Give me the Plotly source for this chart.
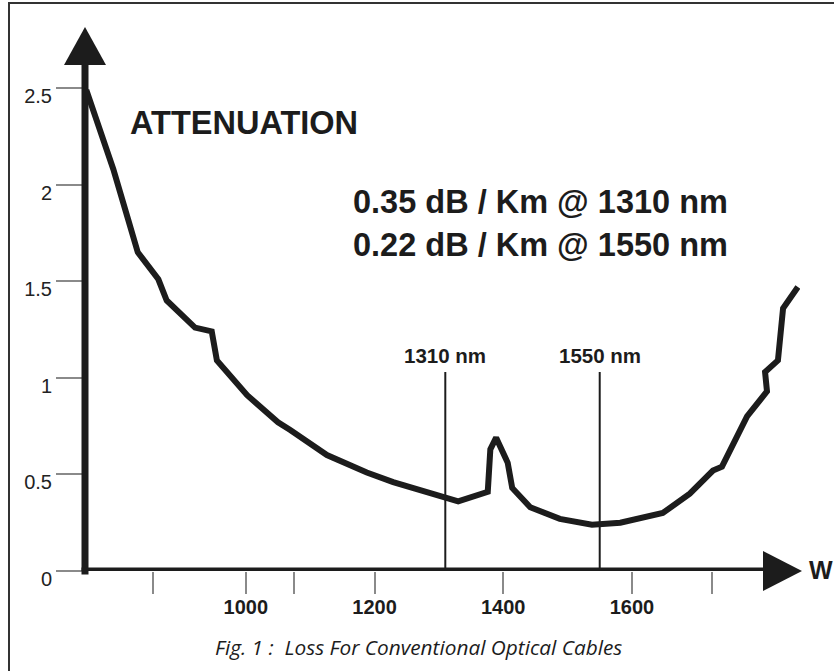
import plotly.graph_objects as go

# ---- data ----
wavelength_nm = [752, 794, 817, 832, 864, 877, 921, 947, 955, 1002, 1050, 1069, 1126,
                 1188, 1229, 1271, 1330, 1376, 1380, 1389, 1407, 1414, 1442, 1488,
                 1538, 1582, 1648, 1690, 1726, 1740, 1779, 1810, 1807, 1827, 1835, 1858]
attenuation = [2.49, 2.08, 1.82, 1.65, 1.51, 1.40, 1.26, 1.24, 1.09, 0.91, 0.77, 0.73, 0.60,
               0.51, 0.46, 0.42, 0.36, 0.41, 0.63, 0.69, 0.56, 0.43, 0.33, 0.27,
               0.24, 0.25, 0.30, 0.40, 0.52, 0.54, 0.80, 0.93, 1.03, 1.09, 1.36, 1.47]

marker_wavelengths = [1310, 1550]
marker_labels = ["1310 nm", "1550 nm"]
marker_top = 1.03

x_tickvals = [855, 1000, 1075, 1200, 1400, 1600, 1725]
x_ticktext = ["", "1000", "", "1200", "1400", "1600", ""]
y_tickvals = [0, 0.5, 1, 1.5, 2, 2.5]
y_ticktext = ["0", "0.5", "1", "1.5", "2", "2.5"]

title_text = "ATTENUATION"
spec_lines = ["0.35 dB / Km @ 1310 nm", "0.22 dB / Km @ 1550 nm"]
x_label = "W"
caption = "Fig. 1 :  Loss For Conventional Optical Cables"

# ---- layout geometry ----
W, H = 834, 671
L, R, T, B = 85, 34, 60, 100
PW, PH = W - L - R, H - T - B
X_RANGE = [750, 1861.3]
Y_RANGE = [0, 2.645]


def px_to_paper_x(px):
    return (px - L) / PW


def py_to_paper_y(py):
    return (H - B - py) / PH


SANS = "Liberation Sans, Arial, sans-serif"
INK = "#1c1c1c"

fig = go.Figure()
fig.add_trace(go.Scatter(x=wavelength_nm, y=attenuation, mode="lines",
                         line=dict(color=INK, width=6), hoverinfo="skip",
                         showlegend=False))

shapes = []
# outer frame
shapes.append(dict(type="rect", xref="paper", yref="paper",
                   x0=px_to_paper_x(9), x1=px_to_paper_x(850),
                   y0=py_to_paper_y(690), y1=py_to_paper_y(3),
                   line=dict(color="#333", width=2), layer="below"))
# marker vertical lines
for wl in marker_wavelengths:
    shapes.append(dict(type="line", xref="x", yref="y", x0=wl, x1=wl, y0=0, y1=marker_top,
                       line=dict(color=INK, width=2), layer="below"))
# axis lines
shapes.append(dict(type="line", xref="paper", yref="y",
                   x0=px_to_paper_x(81.5), x1=px_to_paper_x(770), y0=0, y1=0,
                   line=dict(color=INK, width=7)))
shapes.append(dict(type="line", xref="paper", yref="paper",
                   x0=0, x1=0, y0=py_to_paper_y(574.5), y1=py_to_paper_y(60),
                   line=dict(color=INK, width=7)))
# arrow heads
shapes.append(dict(type="path", xref="paper", yref="paper", xsizemode="pixel", ysizemode="pixel",
                   xanchor=px_to_paper_x(763), yanchor=py_to_paper_y(571),
                   path="M0,-20 L39,0 L0,20 Z", fillcolor=INK, line=dict(width=0)))
shapes.append(dict(type="path", xref="paper", yref="paper", xsizemode="pixel", ysizemode="pixel",
                   xanchor=0, yanchor=py_to_paper_y(65),
                   path="M-21,0 L21,0 L0,38 Z", fillcolor=INK, line=dict(width=0)))

annotations = []
annotations.append(dict(text=title_text, xref="paper", yref="paper",
                        x=px_to_paper_x(128), y=py_to_paper_y(123), xanchor="left", yanchor="middle",
                        showarrow=False, font=dict(family=SANS, size=32.5, color=INK, weight="bold")))
for i, s in enumerate(spec_lines):
    annotations.append(dict(text=s, xref="paper", yref="paper",
                            x=px_to_paper_x(351), y=py_to_paper_y(202 + 43 * i),
                            xanchor="left", yanchor="middle", showarrow=False,
                            font=dict(family=SANS, size=32.5, color=INK, weight="bold")))
for wl, lab in zip(marker_wavelengths, marker_labels):
    annotations.append(dict(text=lab, xref="x", yref="y", x=wl, y=marker_top,
                            xanchor="center", yanchor="bottom", yshift=3, showarrow=False,
                            font=dict(family=SANS, size=20.5, color=INK, weight="bold")))
annotations.append(dict(text=x_label, xref="paper", yref="paper", x=px_to_paper_x(807),
                        y=py_to_paper_y(570), xanchor="left", yanchor="middle", showarrow=False,
                        font=dict(family=SANS, size=25, color=INK, weight="bold")))
annotations.append(dict(text=caption, xref="paper", yref="paper",
                        x=px_to_paper_x(418), y=py_to_paper_y(647), xanchor="center", yanchor="middle",
                        showarrow=False,
                        font=dict(family="Open Sans, sans-serif", size=20.8, color=INK, style="italic")))

fig.update_layout(
    width=W, height=H,
    margin=dict(l=L, r=R, t=T, b=B, pad=0),
    paper_bgcolor="white", plot_bgcolor="white",
    shapes=shapes, annotations=annotations,
    xaxis=dict(range=X_RANGE, showgrid=False, zeroline=False, showline=False,
               tickmode="array", tickvals=x_tickvals, ticktext=x_ticktext,
               ticks="outside", ticklen=22, tickwidth=2, tickcolor="#8a8a8a",
               ticklabelstandoff=-4,
               tickfont=dict(family=SANS, size=20, color=INK, weight="bold")),
    yaxis=dict(range=Y_RANGE, showgrid=False, zeroline=False, showline=False,
               tickmode="array", tickvals=y_tickvals, ticktext=y_ticktext,
               ticks="outside", ticklen=28, tickwidth=2, tickcolor="#8a8a8a",
               ticklabelshift=8, ticklabelstandoff=0,
               tickfont=dict(family=SANS, size=20, color="#222")),
)

fig.write_html("out.html", post_script="document.body.style.margin='0';",
               config={"displayModeBar": False})
